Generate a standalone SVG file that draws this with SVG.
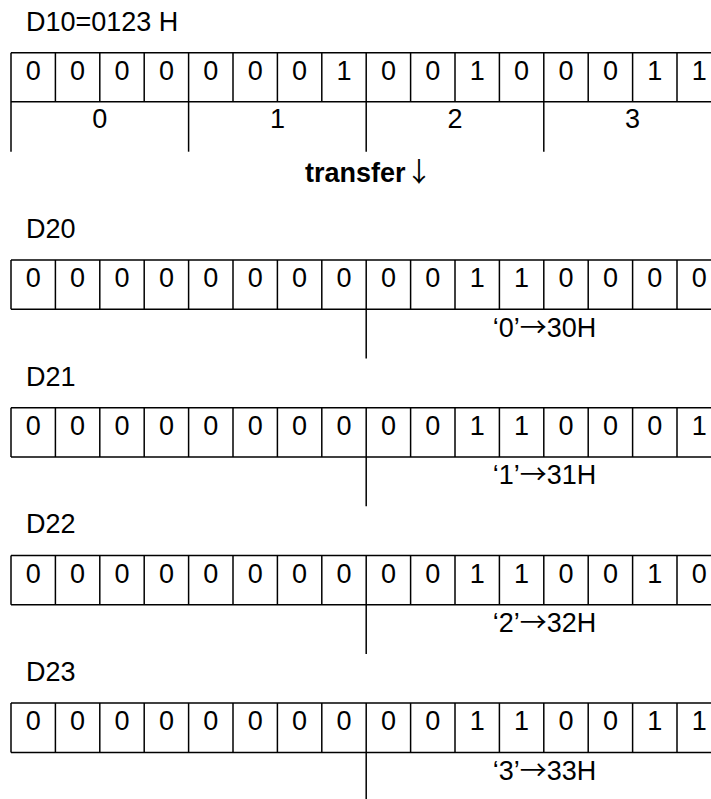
<svg xmlns="http://www.w3.org/2000/svg" width="711" height="799" viewBox="0 0 711 799">
<style>
text{font-family:"Liberation Sans",Arial,sans-serif;font-size:27px;fill:#000}
.c{text-anchor:middle}
.b{font-weight:bold}
.ar{font-family:"Noto Sans CJK SC","Liberation Sans",sans-serif;font-weight:normal}
line{stroke:#000;stroke-width:1.5}
</style>
<rect width="711" height="799" fill="#fff"/>
<g id="d10">
<text x="26" y="31">D10=0123 H</text>
<line x1="11" y1="52.7" x2="711" y2="52.7"/>
<line x1="11" y1="101.7" x2="711" y2="101.7"/>
<line x1="11" y1="52.7" x2="11" y2="151.7"/>
<line x1="55.4" y1="52.7" x2="55.4" y2="101.7"/>
<line x1="99.8" y1="52.7" x2="99.8" y2="101.7"/>
<line x1="144.2" y1="52.7" x2="144.2" y2="101.7"/>
<line x1="188.6" y1="52.7" x2="188.6" y2="151.7"/>
<line x1="233" y1="52.7" x2="233" y2="101.7"/>
<line x1="277.4" y1="52.7" x2="277.4" y2="101.7"/>
<line x1="321.8" y1="52.7" x2="321.8" y2="101.7"/>
<line x1="366.2" y1="52.7" x2="366.2" y2="151.7"/>
<line x1="410.6" y1="52.7" x2="410.6" y2="101.7"/>
<line x1="455" y1="52.7" x2="455" y2="101.7"/>
<line x1="499.4" y1="52.7" x2="499.4" y2="101.7"/>
<line x1="543.8" y1="52.7" x2="543.8" y2="151.7"/>
<line x1="588.2" y1="52.7" x2="588.2" y2="101.7"/>
<line x1="632.6" y1="52.7" x2="632.6" y2="101.7"/>
<line x1="677" y1="52.7" x2="677" y2="101.7"/>
<text class="c" y="80"><tspan x="33.2">0</tspan><tspan x="77.6">0</tspan><tspan x="122">0</tspan><tspan x="166.4">0</tspan><tspan x="210.8">0</tspan><tspan x="255.2">0</tspan><tspan x="299.6">0</tspan><tspan x="344">1</tspan><tspan x="388.4">0</tspan><tspan x="432.8">0</tspan><tspan x="477.2">1</tspan><tspan x="521.6">0</tspan><tspan x="566">0</tspan><tspan x="610.4">0</tspan><tspan x="654.8">1</tspan><tspan x="699.2">1</tspan></text>
<text class="c" y="128"><tspan x="99.8">0</tspan><tspan x="277.4">1</tspan><tspan x="455">2</tspan><tspan x="632.6">3</tspan></text>
</g>
<g id="transfer">
<text x="305" y="182" class="b">transfer<tspan class="ar">↓</tspan></text>
</g>
<defs>
<g id="grid">
<line x1="11" y1="0" x2="711" y2="0"/>
<line x1="11" y1="49.3" x2="711" y2="49.3"/>
<line x1="11" y1="0" x2="11" y2="49.3"/>
<line x1="55.4" y1="0" x2="55.4" y2="49.3"/>
<line x1="99.8" y1="0" x2="99.8" y2="49.3"/>
<line x1="144.2" y1="0" x2="144.2" y2="49.3"/>
<line x1="188.6" y1="0" x2="188.6" y2="49.3"/>
<line x1="233" y1="0" x2="233" y2="49.3"/>
<line x1="277.4" y1="0" x2="277.4" y2="49.3"/>
<line x1="321.8" y1="0" x2="321.8" y2="49.3"/>
<line x1="366.2" y1="0" x2="366.2" y2="98.5"/>
<line x1="410.6" y1="0" x2="410.6" y2="49.3"/>
<line x1="455" y1="0" x2="455" y2="49.3"/>
<line x1="499.4" y1="0" x2="499.4" y2="49.3"/>
<line x1="543.8" y1="0" x2="543.8" y2="49.3"/>
<line x1="588.2" y1="0" x2="588.2" y2="49.3"/>
<line x1="632.6" y1="0" x2="632.6" y2="49.3"/>
<line x1="677" y1="0" x2="677" y2="49.3"/>
<text class="c" y="27.3"><tspan x="33.2">0</tspan><tspan x="77.6">0</tspan><tspan x="122">0</tspan><tspan x="166.4">0</tspan><tspan x="210.8">0</tspan><tspan x="255.2">0</tspan><tspan x="299.6">0</tspan><tspan x="344">0</tspan><tspan x="388.4">0</tspan><tspan x="432.8">0</tspan><tspan x="477.2">1</tspan><tspan x="521.6">1</tspan><tspan x="566">0</tspan><tspan x="610.4">0</tspan></text>
</g>
</defs>
<g id="d20">
<text x="26" y="238">D20</text>
<g transform="translate(0,260)"><use href="#grid"/>
<text class="c" y="27.3"><tspan x="654.8">0</tspan><tspan x="699.2">0</tspan></text>
<text class="c" x="544.5" y="76.7">‘0’<tspan class="ar">→</tspan>30H</text></g>
</g>
<g id="d21">
<text x="26" y="385.7">D21</text>
<g transform="translate(0,407.7)"><use href="#grid"/>
<text class="c" y="27.3"><tspan x="654.8">0</tspan><tspan x="699.2">1</tspan></text>
<text class="c" x="544.5" y="76.7">‘1’<tspan class="ar">→</tspan>31H</text></g>
</g>
<g id="d22">
<text x="26" y="533.4">D22</text>
<g transform="translate(0,555.4)"><use href="#grid"/>
<text class="c" y="27.3"><tspan x="654.8">1</tspan><tspan x="699.2">0</tspan></text>
<text class="c" x="544.5" y="76.7">‘2’<tspan class="ar">→</tspan>32H</text></g>
</g>
<g id="d23">
<text x="26" y="681">D23</text>
<g transform="translate(0,703.1)"><use href="#grid"/>
<text class="c" y="27.3"><tspan x="654.8">1</tspan><tspan x="699.2">1</tspan></text>
<text class="c" x="544.5" y="76.7">‘3’<tspan class="ar">→</tspan>33H</text></g>
</g>
</svg>
